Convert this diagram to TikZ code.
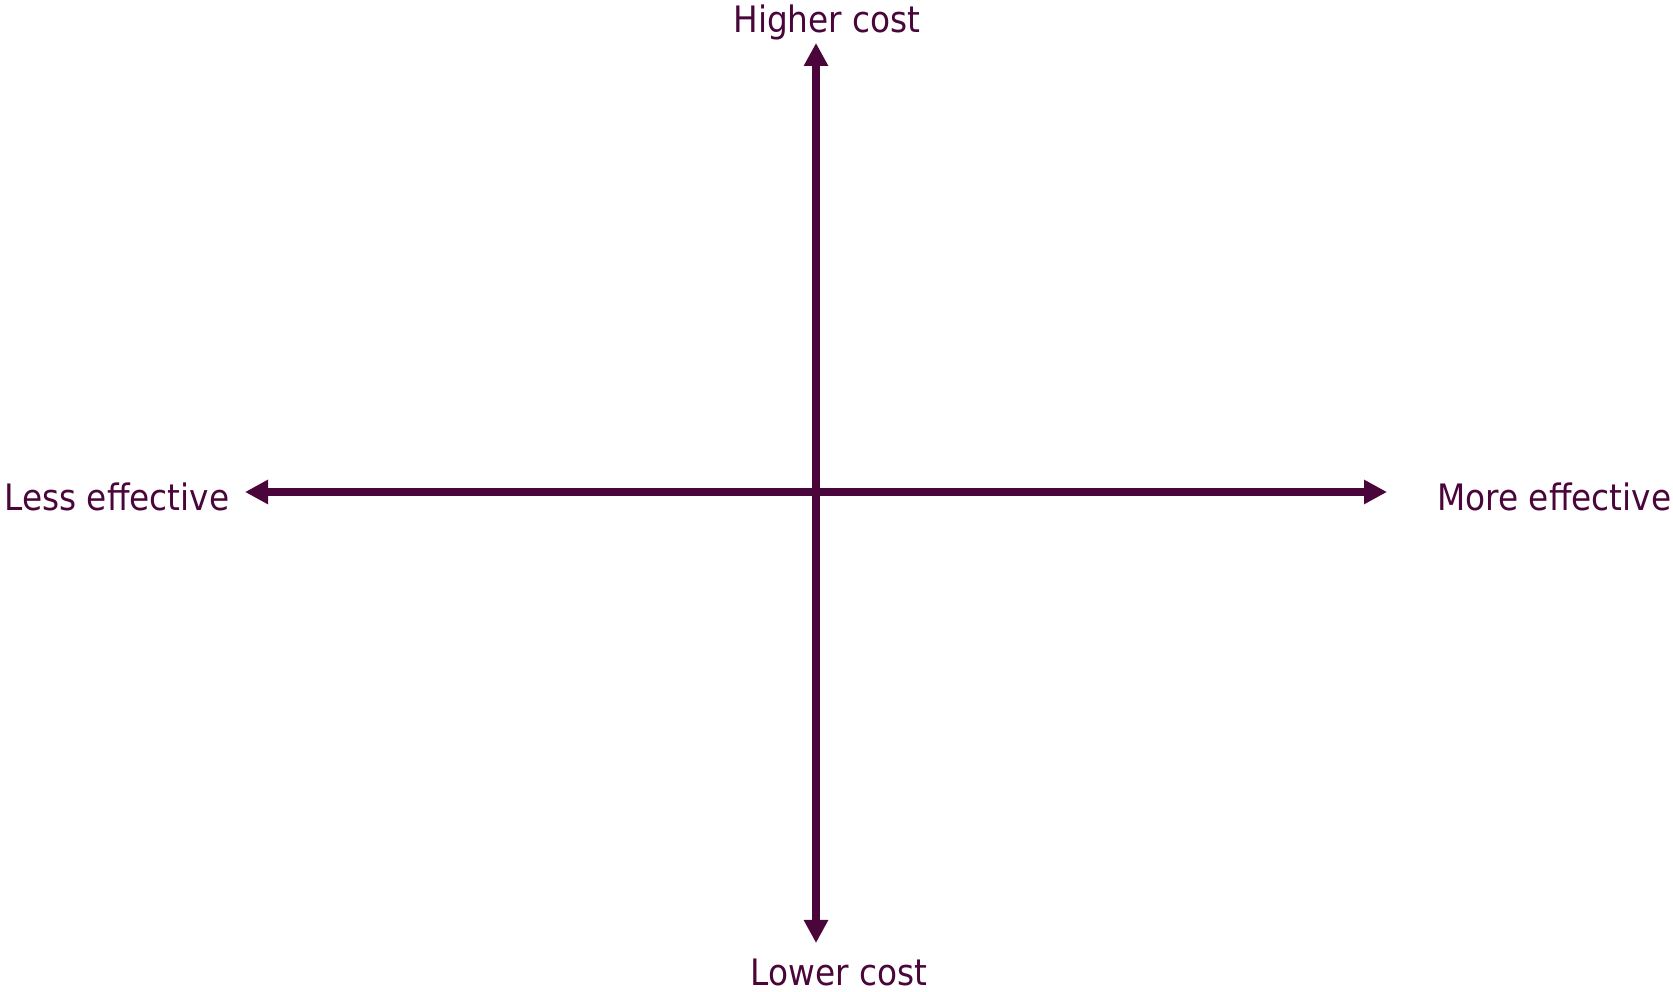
\documentclass[tikz,border=0pt]{standalone}
\usepackage{fontspec}
\setmainfont{DejaVu Sans Condensed}
\usetikzlibrary{arrows.meta}
\definecolor{axiscol}{RGB}{74,6,58}
\tikzset{
  axis/.style={draw=axiscol,line width=0.8mm,{Triangle[length=2.3mm,width=2.3mm]}-{Triangle[length=2.3mm,width=2.3mm]}},
  axislabel/.style={text=axiscol,inner sep=0pt,font=\fontsize{10.35pt}{12pt}\selectfont}
}
\begin{document}
\begin{tikzpicture}[x=0.01cm,y=0.01cm]
\useasboundingbox (0,0) rectangle (1673,991);
\coordinate (top) at (816,948);
\coordinate (bottom) at (816,48);
\coordinate (left) at (245,499);
\coordinate (right) at (1387,499);
\node[axislabel,anchor=base] (higher) at (827,958) {Higher cost};
\node[axislabel,anchor=base] (lower) at (839,5) {Lower cost};
\node[axislabel,anchor=base west] (less) at (4,480) {Less effective};
\node[axislabel,anchor=base east] (more) at (1672,480) {More effective};
\draw[axis] (bottom) -- (top);
\draw[axis] (left) -- (right);
\end{tikzpicture}
\end{document}
